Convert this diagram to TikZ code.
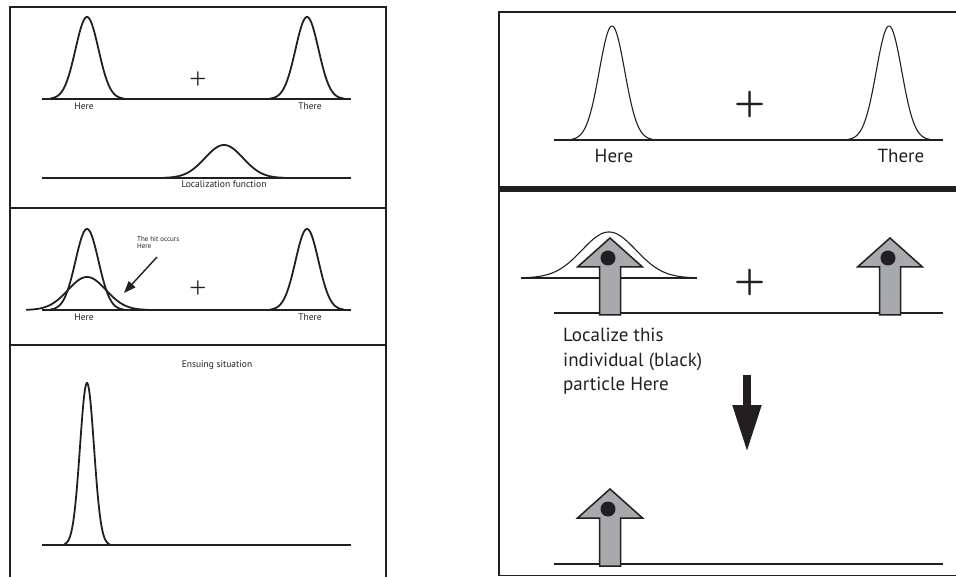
\documentclass[tikz,border=0pt]{standalone}
\usepackage{fontspec}
\setmainfont{PT Sans}
\usetikzlibrary{arrows.meta,positioning}
\definecolor{InkCol}{HTML}{231F20}
\definecolor{ArrowGray}{HTML}{A7A9AC}
\newcommand{\gausspeak}[5]{\draw[#1] plot[domain=-3.2*#4:3.2*#4, samples=80, smooth]
  ({#2+\x},{#3-#5*exp(-((\x)*(\x))/(2*#4*#4))});}
\newcommand{\particlearrow}[2]{\draw[partarrow] (#1-10.5,#2) -- (#1-10.5,#2-48) -- (#1-32.5,#2-48)
  -- (#1,#2-77) -- (#1+32.5,#2-48) -- (#1+10.5,#2-48) -- (#1+10.5,#2) -- cycle;
  \fill[InkCol] (#1-2,#2-57) circle[radius=7.5pt];}

\begin{document}
\begin{tikzpicture}[x=1pt,y=-1pt,
  lcurve/.style={InkCol, line width=1.8pt},
  rcurve/.style={InkCol, line width=1.1pt},
  partarrow/.style={draw=InkCol, fill=ArrowGray, line width=1.5pt, line join=miter},
  smalllbl/.style={font=\fontsize{9.5}{11}\selectfont, text=InkCol, inner sep=0pt, anchor=base},
  biglbl/.style={font=\fontsize{19}{24.5}\selectfont, text=InkCol, inner sep=0pt, anchor=base},
  plussign/.style={text=InkCol, inner sep=0pt}]
  \useasboundingbox (0,0) rectangle (956,577);
  \draw[InkCol, line width=2pt] (10,7) rectangle (386,600);
  \draw[InkCol, line width=2pt] (10,208) -- (386,208) (10,345) -- (386,345);
  \draw[lcurve] (42,99) -- (351,99);
  \gausspeak{lcurve}{87}{99}{11.5}{82}
  \gausspeak{lcurve}{307}{99}{11.5}{82}
  \node[plussign, font=\fontsize{22}{22}\fontfamily{lmr}\bfseries\selectfont] (plusa) at (198,79) {+};
  \node[smalllbl] (herea) at (84,110) {Here};
  \node[smalllbl] (therea) at (310,110) {There};
  \draw[lcurve] (42,178) -- (351,178);
  \gausspeak{lcurve}{224}{178}{19}{33}
  \node[smalllbl] (locfn) at (224,188) {Localization function};
  \draw[lcurve] (42,310) -- (351,310);
  \gausspeak{lcurve}{87}{310}{19}{33}
  \gausspeak{lcurve}{87}{310}{11.5}{81}
  \gausspeak{lcurve}{307}{310}{11.5}{81}
  \node[plussign, font=\fontsize{22}{22}\fontfamily{lmr}\bfseries\selectfont] (plusb) at (198,288) {+};
  \node[smalllbl] (hereb) at (84,321) {Here};
  \node[smalllbl] (thereb) at (310,321) {There};
  \node[font=\fontsize{7}{7.5}\selectfont, text=InkCol, inner sep=0pt, anchor=north west, align=left]
    (hitlbl) at (137,236) {The hit occurs\\Here};
  \coordinate (hitfrom) at (157,257);
  \coordinate (hitto) at (124,293);
  \draw[InkCol, line width=1.4pt, -{Triangle[length=12pt,width=9pt]}] (hitfrom) -- (hitto);
  \node[smalllbl] (ensuing) at (217,367) {Ensuing situation};
  \draw[lcurve] (42,545) -- (351,545);
  \gausspeak{lcurve}{87}{545}{7}{162}
  \draw[InkCol, line width=1.3pt] (499,12) rectangle (970,575.5);
  \draw[InkCol, line width=6pt] (499,189) -- (970,189);
  \draw[rcurve] (554,140) -- (943,140);
  \gausspeak{rcurve}{612}{140}{12.7}{114}
  \gausspeak{rcurve}{889}{140}{12.7}{114}
  \node[plussign, font=\fontsize{40}{40}\fontfamily{lmr}\bfseries\selectfont] (plusc) at (750,104) {+};
  \node[biglbl] (herec) at (614,163) {Here};
  \node[biglbl] (therec) at (901,163) {There};
  \draw[rcurve] (521,278) -- (697,278);
  \gausspeak{rcurve}{609}{278}{27}{46}
  \draw[rcurve] (554,313) -- (943,313);
  \particlearrow{610}{315}
  \particlearrow{890}{315}
  \node[plussign, font=\fontsize{40}{40}\fontfamily{lmr}\bfseries\selectfont] (plusd) at (750,282) {+};
  \node[biglbl, anchor=north west, align=left] (localize) at (563,328)
    {Localize this\\individual (black)\\particle Here};
  \coordinate (dtop) at (747,375);
  \coordinate (dtip) at (747,452);
  \draw[InkCol, line width=8pt, -{Triangle[length=47pt,width=27pt]}] (dtop) -- (dtip);
  \draw[rcurve] (554,564) -- (943,564);
  \particlearrow{610}{566}
\end{tikzpicture}
\end{document}
